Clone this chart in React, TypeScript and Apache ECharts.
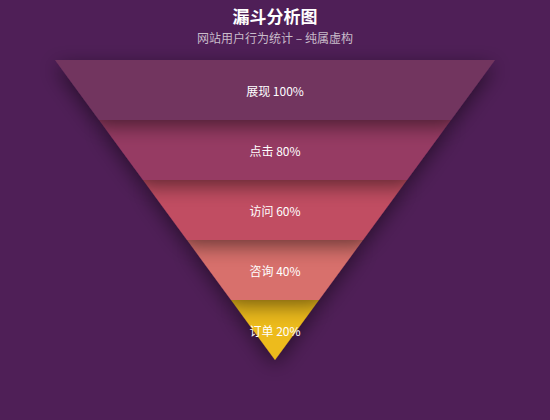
import React, { useEffect, useRef } from "react";
import * as echarts from "echarts";

const stages = ["展现", "点击", "访问", "咨询", "订单"];
const values = [100, 80, 60, 40, 20];
const colors = ["#72365f", "#963b63", "#c14d62", "#d86f6c", "#edbb1a"];

export default function App() {
  const ref = useRef<HTMLDivElement>(null);
  useEffect(() => {
    const chart = echarts.init(ref.current!, null, { renderer: "svg" });
    const data = stages
      .map((name, i) => ({
        name,
        value: values[i],
        itemStyle: { color: colors[i] },
      }))
      .reverse();
    chart.setOption({
      animation: false,
      backgroundColor: "#4f1f57",
      textStyle: { fontFamily: "Noto Sans CJK SC, sans-serif" },
      title: {
        text: "漏斗分析图",
        subtext: "网站用户行为统计 – 纯属虚构",
        left: "center",
        top: 2,
        itemGap: 7,
        textStyle: { color: "#ffffff", fontSize: 17, fontWeight: "bold", fontFamily: "Noto Sans CJK SC, sans-serif" },
        subtextStyle: { color: "#c9bcca", fontSize: 12, fontFamily: "Noto Sans CJK SC, sans-serif" },
      },
      series: [
        {
          type: "funnel",
          left: 55,
          top: 60,
          width: 440,
          height: 300,
          min: 0,
          max: 100,
          minSize: "0%",
          maxSize: "100%",
          sort: "descending",
          gap: 0,
          label: {
            show: true,
            position: "inside",
            color: "#ffffff",
            fontSize: 12,
            fontWeight: "normal",
            padding: [0, 0, 4, 0],
            fontFamily: "Noto Sans CJK SC, sans-serif",
            formatter: (p: any) => `${p.name} ${p.value}%`,
          },
          labelLine: { show: false },
          itemStyle: {
            borderWidth: 0,
            shadowBlur: 20,
            shadowColor: "rgba(0,0,0,0.5)",
            shadowOffsetY: 6,
          },
          emphasis: { disabled: true },
          data,
        },
      ],
    });
    return () => chart.dispose();
  }, []);
  return (
    <div
      ref={ref}
      style={{ position: "fixed", left: 0, top: 0, width: 550, height: 420 }}
    />
  );
}
